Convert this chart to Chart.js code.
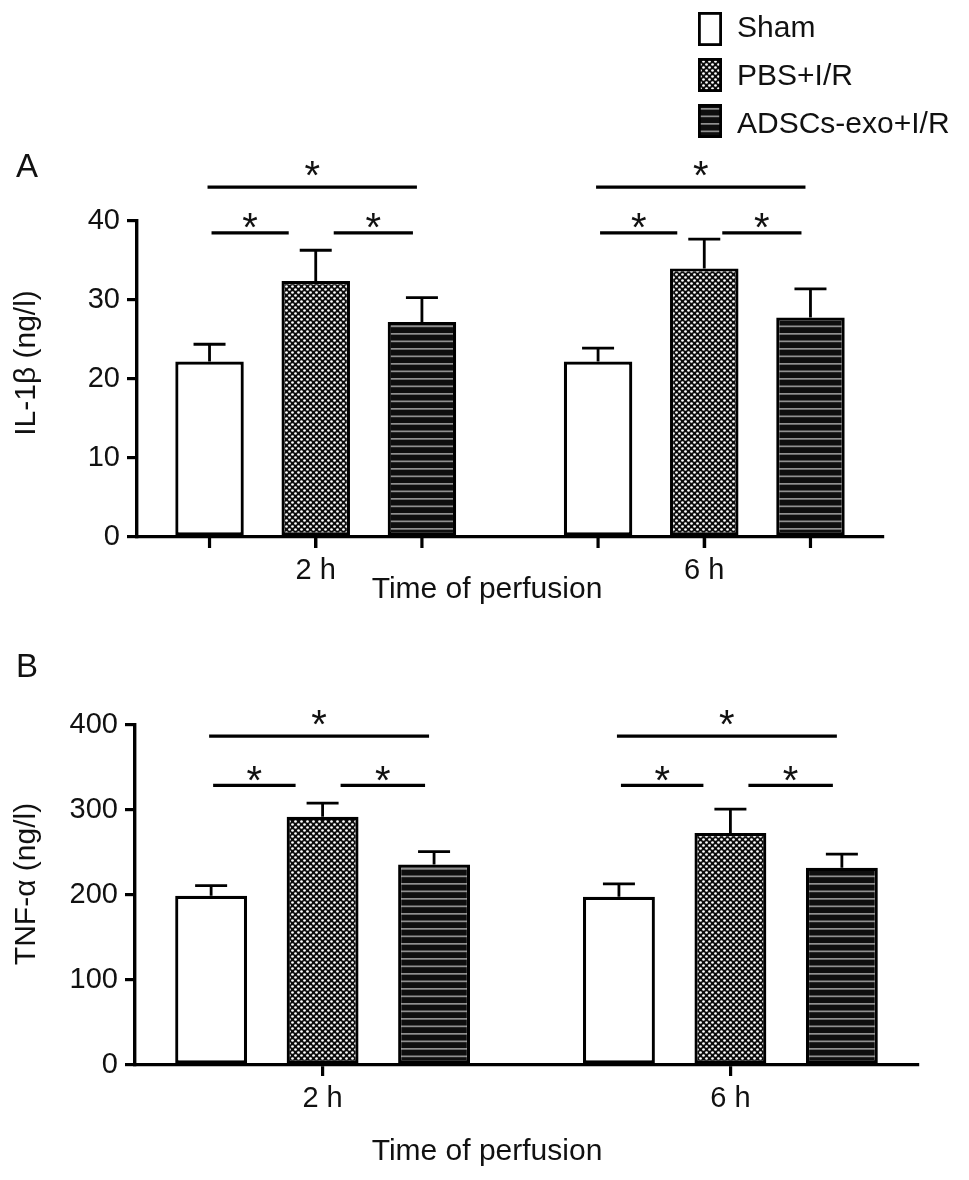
<!DOCTYPE html>
<html>
<head>
<meta charset="utf-8">
<script src="https://cdn.jsdelivr.net/npm/chart.js@4.4.1/dist/chart.umd.min.js"></script>
<style>
  body { margin: 0; background: #fff; }
  canvas { position: absolute; left: 0; }
  #chartA { top: 0; }
  #chartB { top: 640px; }
</style>
</head>
<body>
<canvas id="chartA" width="969" height="640"></canvas>
<canvas id="chartB" width="969" height="540"></canvas>
<script>
const categories = ["2 h", "6 h"];
const groups = ["Sham", "PBS+I/R", "ADSCs-exo+I/R"];

// IL-1beta (ng/l), mean and SD
const il1bSham = [22.2, 22.2];
const il1bPbs = [32.4, 34.0];
const il1bAdsc = [27.2, 27.8];
const il1bShamSd = [2.2, 1.7];
const il1bPbsSd = [3.9, 3.7];
const il1bAdscSd = [3.1, 3.6];

// TNF-alpha (ng/l), mean and SD
const tnfSham = [199, 198];
const tnfPbs = [292, 273];
const tnfAdsc = [236, 232];
const tnfShamSd = [12, 15];
const tnfPbsSd = [16, 28];
const tnfAdscSd = [15, 16];

// heights of the significance lines: [long one, short ones]
const il1bSig = [44.3, 38.5];
const tnfSig = [387, 329];

const FONT = "'Liberation Sans', Arial, Helvetica, sans-serif";
const INK = "#111";

function dotPattern() {
  const c = document.createElement("canvas");
  c.width = 6; c.height = 6;
  const g = c.getContext("2d");
  g.fillStyle = "#0c0c0c";
  g.fillRect(0, 0, 6, 6);
  g.fillStyle = "#fff";
  [[1.5, 1.5], [4.5, 4.5]].forEach(([x, y]) => {
    g.beginPath(); g.arc(x, y, 1.35, 0, Math.PI * 2); g.fill();
  });
  return g.createPattern(c, "repeat");
}

function stripePattern() {
  const c = document.createElement("canvas");
  c.width = 8; c.height = 15;
  const g = c.getContext("2d");
  g.fillStyle = "#0e0e0e";
  g.fillRect(0, 0, 8, 15);
  g.fillStyle = "#909090";
  g.fillRect(0, 3, 8, 1.7);
  g.fillRect(0, 10.5, 8, 1.7);
  return g.createPattern(c, "repeat");
}

const fills = ["#fff", dotPattern(), stripePattern()];

const errorBars = {
  id: "errorBars",
  afterDatasetsDraw(chart) {
    const ctx = chart.ctx, y = chart.scales.y;
    ctx.save();
    ctx.strokeStyle = "#000";
    ctx.lineWidth = 2.8;
    chart.data.datasets.forEach((ds, i) => {
      chart.getDatasetMeta(i).data.forEach((bar, j) => {
        const top = y.getPixelForValue(ds.data[j].y + ds.sd[j]);
        ctx.beginPath();
        ctx.moveTo(bar.x, bar.y);
        ctx.lineTo(bar.x, top);
        ctx.moveTo(bar.x - 16, top);
        ctx.lineTo(bar.x + 16, top);
        ctx.stroke();
      });
    });
    ctx.restore();
  }
};

function star(ctx, x, cy) {
  ctx.font = "40px " + FONT;
  ctx.textAlign = "center";
  ctx.textBaseline = "alphabetic";
  ctx.fillText("*", x, cy + 0.58 * 40);
}

const decorations = {
  id: "decorations",
  afterDraw(chart, args, o) {
    const ctx = chart.ctx, y = chart.scales.y, area = chart.chartArea;
    const bars = [0, 1, 2].map(i => chart.getDatasetMeta(i).data);
    ctx.save();
    ctx.strokeStyle = "#000";
    ctx.fillStyle = INK;
    ctx.lineWidth = 3.2;

    // extra x ticks under every bar
    if (o.barTicks) {
      bars.forEach(list => list.forEach(b => {
        ctx.beginPath();
        ctx.moveTo(b.x, area.bottom);
        ctx.lineTo(b.x, area.bottom + 11);
        ctx.stroke();
      }));
    }

    // significance lines
    const yTop = y.getPixelForValue(o.sig[0]);
    const yLow = y.getPixelForValue(o.sig[1]);
    categories.forEach((c, j) => {
      const a = bars[0][j].x, b = bars[1][j].x, d = bars[2][j].x;
      const segs = [[a - 2, d - 5, yTop], [a + 2, b - 27, yLow], [b + 18, d - 9, yLow]];
      segs.forEach(([x0, x1, yy]) => {
        ctx.beginPath(); ctx.moveTo(x0, yy); ctx.lineTo(x1, yy); ctx.stroke();
        star(ctx, (x0 + x1) / 2, yy - (yy === yTop ? 21 : 15));
      });
    });

    // panel letter
    ctx.font = "33px " + FONT;
    ctx.textAlign = "left";
    ctx.textBaseline = "alphabetic";
    ctx.fillText(o.letter, 16, o.letterY);

    // axis titles
    ctx.font = "30px " + FONT;
    ctx.textAlign = "center";
    ctx.fillText("Time of perfusion", 487, o.xTitleY);
    ctx.save();
    ctx.translate(27, o.yTitleY);
    ctx.rotate(-Math.PI / 2);
    ctx.textBaseline = "middle";
    ctx.fillText(o.yTitle, 0, 0);
    ctx.restore();

    // legend
    if (o.legend) {
      const rows = [[12, 37], [58, 85], [104, 133]];
      chart.data.datasets.forEach((ds, i) => {
        const [top, base] = rows[i];
        ctx.fillStyle = ds.backgroundColor;
        ctx.fillRect(698, top, 24, 34);
        ctx.lineWidth = 2.8;
        ctx.strokeRect(699.4, top + 1.4, 21.2, 31.2);
        ctx.fillStyle = INK;
        ctx.font = "30px " + FONT;
        ctx.textAlign = "left";
        ctx.fillText(ds.label, 737, base);
      });
    }
    ctx.restore();
  }
};

function makeChart(id, o) {
  const datasets = o.means.map((m, i) => ({
    label: groups[i],
    data: m.map((v, j) => ({ x: j, y: v })),
    sd: o.sds[i],
    backgroundColor: fills[i],
    borderColor: "#000",
    borderWidth: 3.2,
    borderSkipped: false,
    barPercentage: 0.645,
    categoryPercentage: 0.82
  }));
  return new Chart(document.getElementById(id), {
    type: "bar",
    data: { datasets },
    options: {
      responsive: false,
      animation: false,
      layout: { padding: o.padding },
      plugins: {
        legend: { display: false },
        tooltip: { enabled: false },
        decorations: o.deco
      },
      scales: {
        x: {
          type: "linear",
          offset: false,
          min: -0.46,
          max: 1.46,
          afterBuildTicks: s => { s.ticks = categories.map((c, i) => ({ value: i })); },
          afterFit: s => { s.height = o.xHeight; },
          ticks: {
            autoSkip: false,
            callback: v => categories[v],
            font: { family: FONT, size: 29 },
            color: INK,
            padding: 6
          },
          grid: { drawOnChartArea: false, offset: false, tickLength: 11, color: "#000", lineWidth: 3.2 },
          border: { color: "#000", width: 3.2 }
        },
        y: {
          min: 0,
          max: o.yMax,
          afterFit: s => { s.width = o.yWidth; },
          ticks: {
            stepSize: o.yStep,
            font: { family: FONT, size: 29 },
            color: INK,
            padding: 7
          },
          grid: { drawOnChartArea: false, tickLength: 10, color: "#000", lineWidth: 3.2 },
          border: { color: "#000", width: 3.4 }
        }
      }
    },
    plugins: [errorBars, decorations]
  });
}

makeChart("chartA", {
  means: [il1bSham, il1bPbs, il1bAdsc],
  sds: [il1bShamSd, il1bPbsSd, il1bAdscSd],
  yMax: 40, yStep: 10,
  yWidth: 137, xHeight: 103,
  padding: { top: 221, right: 86, left: 0, bottom: 0 },
  deco: { sig: il1bSig, barTicks: true, letter: "A", letterY: 177, xTitleY: 598,
          yTitle: "IL-1\u03b2 (ng/l)", yTitleY: 363, legend: true }
});

makeChart("chartB", {
  means: [tnfSham, tnfPbs, tnfAdsc],
  sds: [tnfShamSd, tnfPbsSd, tnfAdscSd],
  yMax: 400, yStep: 100,
  yWidth: 135, xHeight: 115,
  padding: { top: 85, right: 51, left: 0, bottom: 0 },
  deco: { sig: tnfSig, barTicks: false, letter: "B", letterY: 37, xTitleY: 520,
          yTitle: "TNF-\u03b1 (ng/l)", yTitleY: 244, legend: false }
});
</script>
</body>
</html>
